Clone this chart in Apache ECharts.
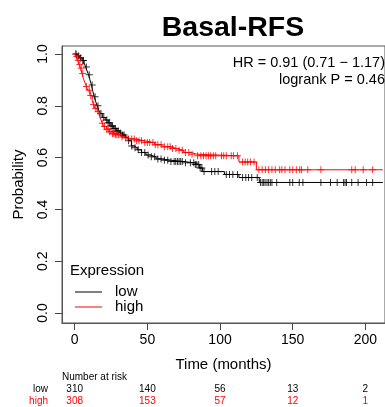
<!DOCTYPE html>
<html>
<head>
<meta charset="utf-8">
<script src="https://cdn.jsdelivr.net/npm/echarts@6/dist/echarts.min.js"></script>
<style>
  html, body { margin: 0; padding: 0; background: #fff; }
  #chart { width: 385px; height: 407px; }
</style>
</head>
<body>
<div id="chart"></div>
<script>
// KM step points (months, survival after the step)
var lowTime = [0, 1.5, 3, 5, 6.5, 7.5, 8.5, 9.5, 10.5, 11.5, 12.5, 13.5, 14.5, 15.5, 16.5, 17.5, 19, 21, 23, 25, 27, 29, 31, 33, 35, 37, 39, 41, 43, 46, 49, 52, 56, 60, 66, 75, 82, 86, 88, 103, 113, 127, 212];
var lowSurv = [1.0, 0.993, 0.985, 0.975, 0.965, 0.95, 0.935, 0.92, 0.9, 0.88, 0.855, 0.835, 0.815, 0.8, 0.785, 0.77, 0.755, 0.745, 0.735, 0.722, 0.712, 0.703, 0.695, 0.687, 0.678, 0.665, 0.645, 0.638, 0.63, 0.62, 0.61, 0.603, 0.595, 0.59, 0.585, 0.58, 0.573, 0.56, 0.546, 0.535, 0.523, 0.504, 0.504];

var highTime = [0, 1, 2, 3, 4, 5, 6, 7, 8, 9, 10.5, 12, 13, 14, 15.5, 17, 18, 19, 20, 22, 24, 26, 28, 32, 36, 42, 48, 55, 60, 66, 70, 75, 80, 84, 113, 125, 212];
var highSurv = [1.0, 0.99, 0.975, 0.96, 0.945, 0.925, 0.905, 0.89, 0.875, 0.86, 0.84, 0.82, 0.805, 0.79, 0.777, 0.76, 0.746, 0.733, 0.72, 0.71, 0.7, 0.693, 0.688, 0.68, 0.672, 0.665, 0.658, 0.65, 0.642, 0.635, 0.628, 0.62, 0.613, 0.607, 0.583, 0.553, 0.553];

// censoring times
var lowCens = [1, 2.5, 4, 5.5, 6, 8, 10, 12, 14, 16, 18, 20, 22, 23, 24, 25, 26, 27, 28, 29, 30, 31.4, 33, 34, 37, 39.2, 41.5, 43.7, 46, 48.2, 50.5, 52.7, 55, 57.2, 59.4, 61.7, 64, 66.2, 68.4, 69.5, 70.7, 71.8, 72.9, 74, 76.2, 79.6, 81.9, 83, 84, 85.3, 86.3, 87.5, 89, 94.2, 96.4, 98.7, 104.3, 106.5, 108.8, 112, 115.5, 117.7, 119.6, 121.8, 125.6, 127.8, 129, 130, 131, 132.3, 133.4, 134.6, 135.7, 139, 148, 150, 154.5, 157, 169.4, 176, 180.6, 185, 186, 187, 190.6, 195, 200.8, 205];
var highCens = [0.5, 1.5, 2.5, 3.5, 4.5, 5.5, 8, 10, 11, 13, 14.5, 16, 19, 20.5, 22, 23, 24, 25, 26, 27, 28, 29, 30, 32.5, 34.8, 37, 39.2, 41, 42.6, 44.2, 46, 48.2, 50, 51.6, 53.8, 55.4, 57.2, 59.4, 61.7, 64, 65.7, 67.3, 69.6, 71.8, 74, 76.2, 78.5, 80.7, 84.5, 86.8, 88.6, 90.4, 92, 93.5, 95.4, 97, 101, 102.5, 104.3, 107.7, 109.2, 112, 115.5, 117.3, 119, 121, 123.4, 126.7, 129, 131.2, 133.4, 135.7, 138, 141, 142.5, 144.7, 148, 150, 152.5, 154.8, 156, 160.4, 169.4, 190.6, 193, 198.5, 205];

// number at risk
var riskTimes = [0, 50, 100, 150, 200];
var lowRisk = [310, 140, 56, 13, 2];
var highRisk = [308, 153, 57, 12, 1];

var xTicks = [0, 50, 100, 150, 200];
var yTicks = [0, 0.2, 0.4, 0.6, 0.8, 1.0];

function stepAt(times, surv, t) {
  var s = surv[0];
  for (var i = 0; i < times.length; i++) {
    if (times[i] <= t) s = surv[i];
  }
  return s;
}
function pairs(times, surv) {
  return times.map(function (t, i) { return [t, surv[i]]; });
}
function censPts(cens, times, surv) {
  return cens.map(function (t) { return [t, stepAt(times, surv, t)]; });
}

var plus = 'path://M3,0H4V3H7V4H4V7H3V4H0V3H3Z';
var font = 'Liberation Sans';
var axCol = '#555';

var option = {
  animation: false,
  textStyle: { fontFamily: font },
  grid: { left: 62, top: 46, width: 330, height: 277, show: true, borderColor: axCol, borderWidth: 1 },
  xAxis: [
    {
      type: 'value', min: -8.75, max: 213.5, position: 'bottom',
      name: 'Time (months)', nameLocation: 'middle', nameGap: 34,
      nameTextStyle: { fontSize: 15, color: '#000', fontFamily: font },
      axisLine: { show: true, onZero: false, lineStyle: { color: axCol, width: 1 } },
      axisTick: { show: false },
      axisLabel: { fontSize: 14, color: '#000', margin: 10, customValues: xTicks, fontFamily: font },
      splitLine: { show: false }
    },
    {
      // tick-only axis on the same scale
      type: 'value', min: -8.75, max: 213.5, position: 'bottom',
      axisLine: { show: true, onZero: false, lineStyle: { color: axCol, width: 1 } },
      axisTick: { show: true, length: 7, lineStyle: { color: '#444', width: 1 }, customValues: xTicks },
      axisLabel: { show: false, customValues: xTicks },
      splitLine: { show: false }
    }
  ],
  yAxis: [
    {
      type: 'value', min: -0.0386, max: 1.031, position: 'left',
      name: 'Probability', nameLocation: 'middle', nameGap: 36,
      nameTextStyle: { fontSize: 15, color: '#000', fontFamily: font },
      axisLine: { show: true, onZero: false, lineStyle: { color: axCol, width: 1 } },
      axisTick: { show: false },
      axisLabel: {
        fontSize: 14, color: '#000', margin: 12, rotate: 90, customValues: yTicks, fontFamily: font,
        formatter: function (v) { return v.toFixed(1); }
      },
      splitLine: { show: false }
    },
    {
      type: 'value', min: -0.0386, max: 1.031, position: 'left',
      axisLine: { show: true, onZero: false, lineStyle: { color: axCol, width: 1 } },
      axisTick: { show: true, length: 7, lineStyle: { color: '#444', width: 1 }, customValues: yTicks },
      axisLabel: { show: false, customValues: yTicks },
      splitLine: { show: false }
    }
  ],
  legend: {
    data: [{ name: 'low', icon: 'rect' }, { name: 'high', icon: 'rect' }],
    orient: 'vertical', left: 70, top: 279.5,
    itemWidth: 27, itemHeight: 1, itemGap: 0,
    textStyle: { fontSize: 15, color: '#000', lineHeight: 15, padding: [0, 0, 0, 8], fontFamily: font },
    selectedMode: false
  },
  graphic: [
    { type: 'text', x: 233, y: 28,
      style: { text: 'Basal-RFS', fontSize: 28.5, fontWeight: 'bold', fontFamily: font, fill: '#000', textAlign: 'center', textVerticalAlign: 'middle' } },
    { type: 'text', x: 385, y: 63,
      style: { text: 'HR = 0.91 (0.71 \u2212 1.17)', fontSize: 14.5, fontFamily: font, fill: '#000', textAlign: 'right', textVerticalAlign: 'middle' } },
    { type: 'text', x: 385, y: 80,
      style: { text: 'logrank P = 0.46', fontSize: 14.5, fontFamily: font, fill: '#000', textAlign: 'right', textVerticalAlign: 'middle' } },
    { type: 'text', x: 70, y: 271,
      style: { text: 'Expression', fontSize: 15, fontFamily: font, fill: '#000', textAlign: 'left', textVerticalAlign: 'middle' } },
    { type: 'text', x: 62, y: 377,
      style: { text: 'Number at risk', fontSize: 10, fontFamily: font, fill: '#000', textAlign: 'left', textVerticalAlign: 'middle' } },
    { type: 'text', x: 48, y: 389,
      style: { text: 'low', fontSize: 10, fontFamily: font, fill: '#000', textAlign: 'right', textVerticalAlign: 'middle' } },
    { type: 'text', x: 48, y: 401,
      style: { text: 'high', fontSize: 10, fontFamily: font, fill: '#ff0000', textAlign: 'right', textVerticalAlign: 'middle' } }
  ],
  series: [
    {
      name: 'low', type: 'line', step: 'end', xAxisIndex: 0, yAxisIndex: 0,
      data: pairs(lowTime, lowSurv), showSymbol: false, symbol: 'none',
      lineStyle: { color: '#000', width: 1 }, itemStyle: { color: '#000' }
    },
    {
      name: 'high', type: 'line', step: 'end', xAxisIndex: 0, yAxisIndex: 0,
      data: pairs(highTime, highSurv), showSymbol: false, symbol: 'none',
      lineStyle: { color: '#ff0000', width: 1 }, itemStyle: { color: '#ff0000' }
    },
    {
      name: 'low censored', type: 'scatter', xAxisIndex: 0, yAxisIndex: 0,
      data: censPts(lowCens, lowTime, lowSurv), symbol: plus, symbolSize: 7,
      itemStyle: { color: '#000' }
    },
    {
      name: 'high censored', type: 'scatter', xAxisIndex: 0, yAxisIndex: 0,
      data: censPts(highCens, highTime, highSurv), symbol: plus, symbolSize: 7,
      itemStyle: { color: '#ff0000' }
    }
  ]
};

var myChart = echarts.init(document.getElementById('chart'));
myChart.setOption(option);

// number-at-risk row, placed under the x scale of the plot
var riskText = [];
riskTimes.forEach(function (t, i) {
  var px = myChart.convertToPixel({ xAxisIndex: 0 }, t);
  riskText.push({ type: 'text', x: px, y: 389,
    style: { text: String(lowRisk[i]), fontSize: 10, fontFamily: font, fill: '#000', textAlign: 'center', textVerticalAlign: 'middle' } });
  riskText.push({ type: 'text', x: px, y: 401,
    style: { text: String(highRisk[i]), fontSize: 10, fontFamily: font, fill: '#ff0000', textAlign: 'center', textVerticalAlign: 'middle' } });
});
myChart.setOption({ graphic: option.graphic.concat(riskText) });
</script>
</body>
</html>
